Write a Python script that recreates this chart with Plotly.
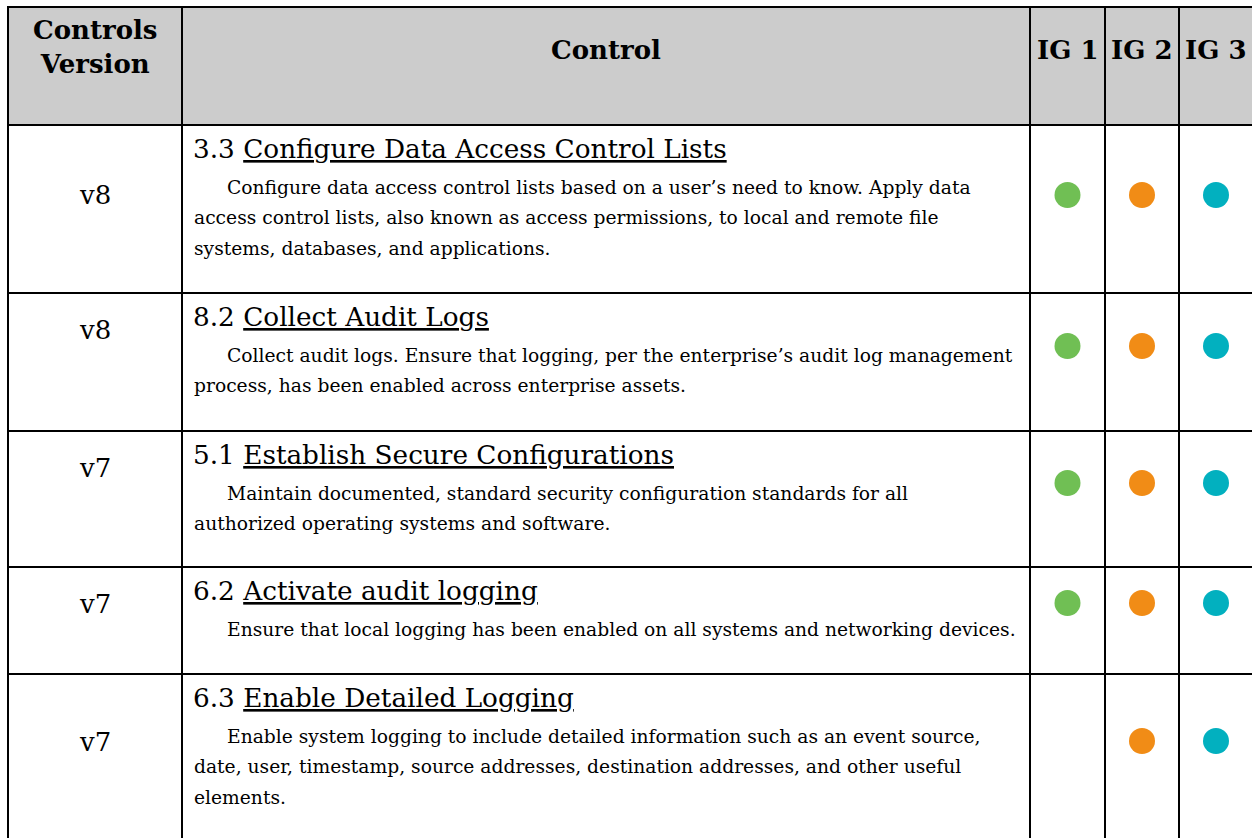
import plotly.graph_objects as go

# ---------------- data ----------------
header_labels = ["Controls<br>Version", "Control"]
ig_labels = ["IG 1", "IG 2", "IG 3"]
versions = ["v8", "v8", "v7", "v7", "v7"]
control_ids = ["3.3", "8.2", "5.1", "6.2", "6.3"]
control_titles = [
    "Configure Data Access Control Lists",
    "Collect Audit Logs",
    "Establish Secure Configurations",
    "Activate audit logging",
    "Enable Detailed Logging",
]
control_descriptions = [
    ["Configure data access control lists based on a user\u2019s need to know. Apply data",
     "access control lists, also known as access permissions, to local and remote file",
     "systems, databases, and applications."],
    ["Collect audit logs. Ensure that logging, per the enterprise\u2019s audit log management",
     "process, has been enabled across enterprise assets."],
    ["Maintain documented, standard security configuration standards for all",
     "authorized operating systems and software."],
    ["Ensure that local logging has been enabled on all systems and networking devices."],
    ["Enable system logging to include detailed information such as an event source,",
     "date, user, timestamp, source addresses, destination addresses, and other useful",
     "elements."],
]
ig1 = [True, True, True, True, False]
ig2 = [True, True, True, True, True]
ig3 = [True, True, True, True, True]
ig_colors = ["#70BF54", "#F18C16", "#02B0BF"]

# ---------------- layout geometry ----------------
W, H = 1252, 838
col_edges = [8, 182, 1030, 1105, 1179, 1253]
row_edges = [7, 125, 293, 431, 567, 674, 880]
version_y = [195, 330, 468, 604, 742]
marker_y = [195, 346, 483, 603, 741]
FONT = "DejaVu Serif"
LW = 2

fig = go.Figure()

shapes = [dict(type="rect", xref="x", yref="y", x0=col_edges[0], x1=col_edges[-1],
               y0=row_edges[0], y1=row_edges[1], fillcolor="#CCCCCC",
               line=dict(width=0), layer="below")]
for y in row_edges[:-1]:
    shapes.append(dict(type="line", xref="x", yref="y", x0=col_edges[0] - 1, x1=col_edges[-1] + 1,
                       y0=y, y1=y, line=dict(color="black", width=LW)))
for x in col_edges:
    shapes.append(dict(type="line", xref="x", yref="y", x0=x, x1=x,
                       y0=row_edges[0] - 1, y1=row_edges[-1], line=dict(color="black", width=LW)))

ann = []
# header
ann.append(dict(x=(col_edges[0] + col_edges[1]) / 2, y=47, text="<b>" + header_labels[0] + "</b>",
                font=dict(family=FONT, size=26, color="black"), showarrow=False,
                xanchor="center", yanchor="middle", align="center"))
ann.append(dict(x=(col_edges[1] + col_edges[2]) / 2, y=50, text="<b>" + header_labels[1] + "</b>",
                font=dict(family=FONT, size=26, color="black"), showarrow=False,
                xanchor="center", yanchor="middle"))
for i, lab in enumerate(ig_labels):
    ann.append(dict(x=(col_edges[2 + i] + col_edges[3 + i]) / 2, y=50, text="<b>" + lab + "</b>",
                    font=dict(family=FONT, size=26, color="black"), showarrow=False,
                    xanchor="center", yanchor="middle"))

# body rows
for r in range(len(versions)):
    top = row_edges[r + 1]
    ann.append(dict(x=(col_edges[0] + col_edges[1]) / 2, y=version_y[r], text=versions[r],
                    font=dict(family=FONT, size=26, color="black"), showarrow=False,
                    xanchor="center", yanchor="middle"))
    ann.append(dict(x=191, y=top + 24,
                    text=control_ids[r] + " <span style='text-decoration:underline'>" + control_titles[r] + "</span>",
                    font=dict(family=FONT, size=26.3, color="black"), showarrow=False,
                    xanchor="left", yanchor="middle"))
    for j, line in enumerate(control_descriptions[r]):
        ann.append(dict(x=225 if j == 0 else 192, y=top + 62 + 30.5 * j, text=line,
                        font=dict(family=FONT, size=18.7, color="black"), showarrow=False,
                        xanchor="left", yanchor="middle"))

# IG markers
flags = [ig1, ig2, ig3]
for k in range(3):
    xs, ys = [], []
    for r in range(len(versions)):
        if flags[k][r]:
            xs.append((col_edges[2 + k] + col_edges[3 + k]) / 2)
            ys.append(marker_y[r])
    fig.add_trace(go.Scatter(x=xs, y=ys, mode="markers", name=ig_labels[k],
                             marker=dict(size=26, color=ig_colors[k], line=dict(width=0)),
                             hoverinfo="skip", showlegend=False))

fig.update_layout(
    width=W, height=H, margin=dict(l=0, r=0, t=0, b=0),
    paper_bgcolor="white", plot_bgcolor="white",
    xaxis=dict(range=[0, W], visible=False, fixedrange=True),
    yaxis=dict(range=[H, 0], visible=False, fixedrange=True),
    shapes=shapes, annotations=ann, showlegend=False,
)
fig.write_html("out.html", config={"displayModeBar": False},
               post_script="document.body.style.margin='0px';document.body.style.overflow='hidden';")
